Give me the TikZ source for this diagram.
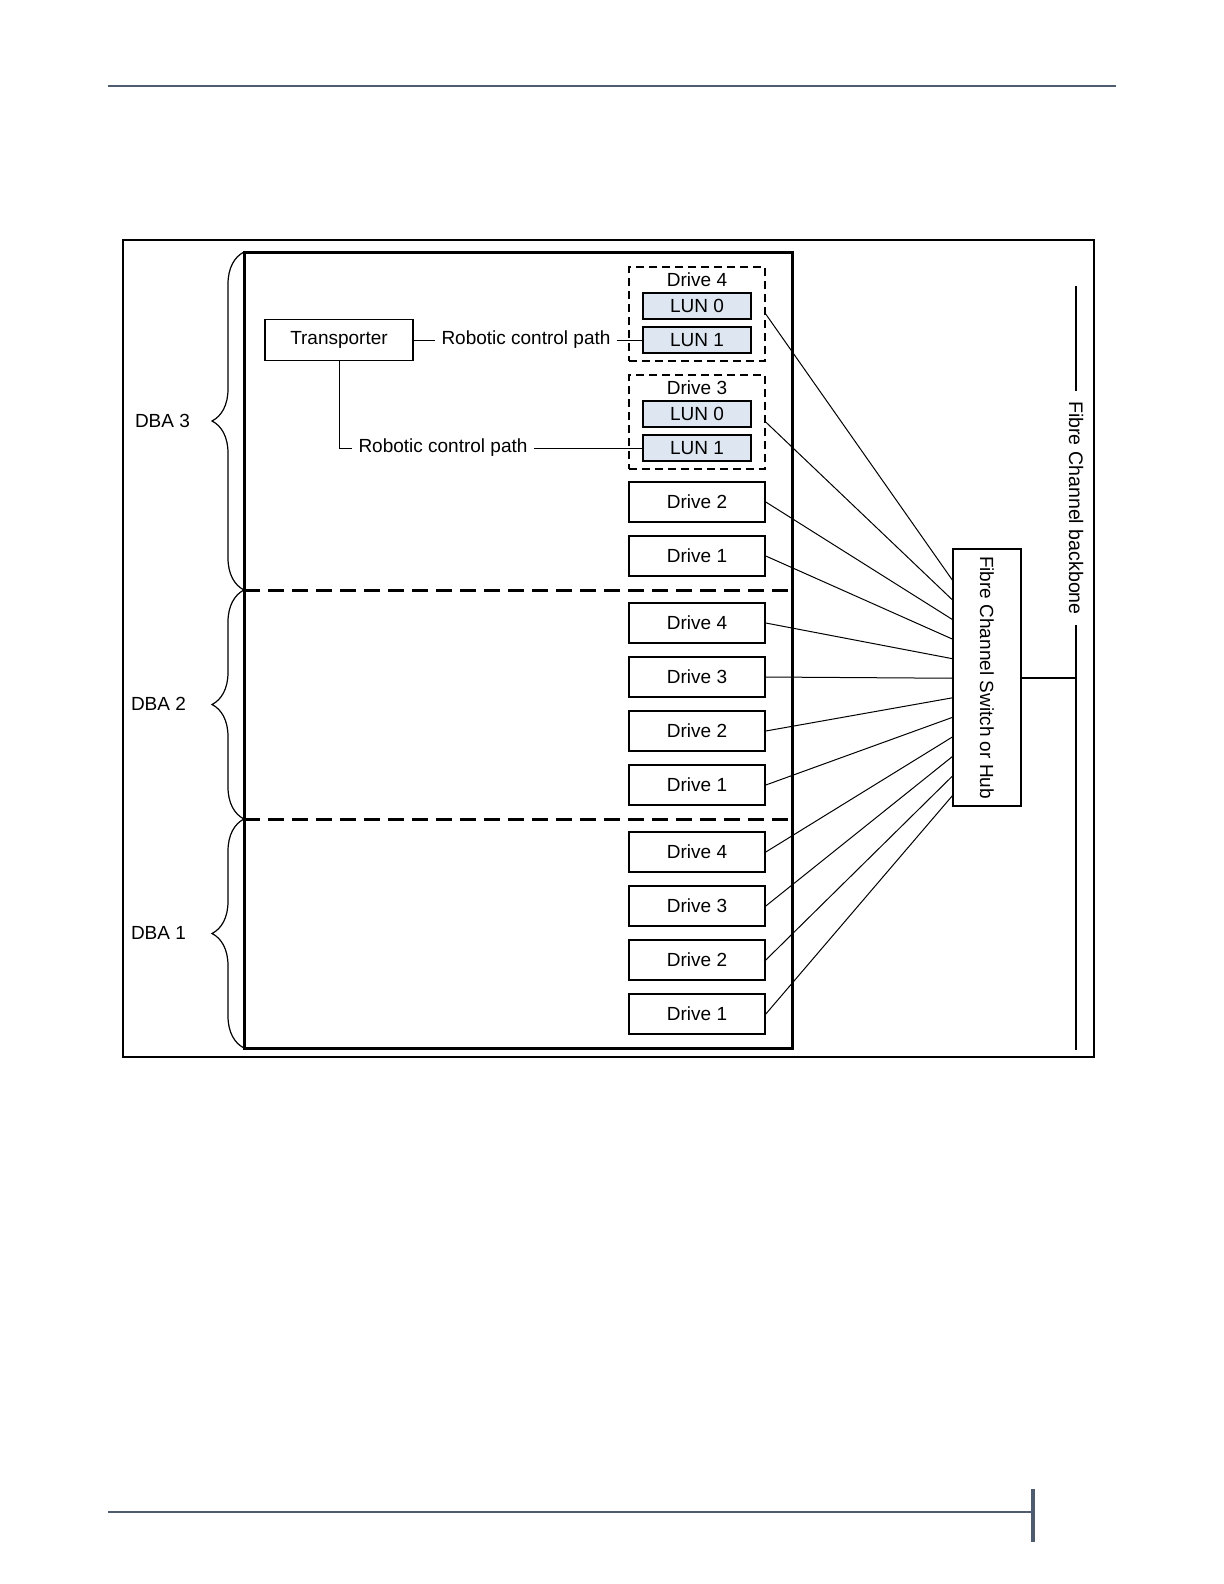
\documentclass[tikz,border=0pt]{standalone}
\usepackage{fontspec}
\setmainfont{Liberation Sans}
\usetikzlibrary{decorations.pathreplacing,positioning}
\definecolor{pagerulecol}{HTML}{4F5B6E}
\definecolor{lunfill}{HTML}{DEE6F1}
\tikzset{
  drive/.style={
    draw,
    line width = 0.8pt,
    minimum width = 68pt,
    minimum height = 20pt,
    inner sep = 0pt
  },
  lun/.style={
    draw,
    line width = 0.8pt,
    fill = lunfill,
    minimum width = 54pt,
    minimum height = 13pt,
    inner sep = 0pt
  },
  drivegroup/.style={
    draw,
    line width = 0.7pt,
    dash pattern = on 4pt off 2.5pt,
    minimum width = 68pt,
    minimum height = 47pt,
    inner sep = 0pt
  },
  plainbox/.style={
    draw,
    line width = 0.8pt,
    inner sep = 0pt
  },
  pathlabel/.style={
    inner sep = 3pt
  },
  link/.style={
    line width = 0.5pt
  },
  sepline/.style={
    line width = 1.5pt,
    dash pattern = on 8pt off 4pt
  },
  dbabrace/.style={
    decorate,
    decoration = {brace, amplitude = 16pt},
    line width = 0.6pt
  },
  pagerule/.style={
    draw = pagerulecol,
    line width = 0.6pt
  }
}

\begin{document}
\begin{tikzpicture}[x=0.5pt, y=-0.5pt, font=\fontsize{9.5}{11}\selectfont]
\useasboundingbox (0,0) rectangle (1224,1584);

    % page rules
    \draw[pagerule] (108,86) -- (1116,86);
    \draw[pagerule] (108,1512) -- (1032,1512);
    \draw[pagerule, line width=2pt] (1033,1489) -- (1033,1542);

    % frame and library
    \draw[line width=0.6pt] (123,240) rectangle (1094,1057);
    \draw[line width=1.5pt] (244,252) rectangle (792,1048);
    \draw[sepline] (244,590) -- (792,590);
    \draw[sepline] (244,819) -- (792,819);

    % DBA braces
    \draw[dbabrace] (244,590) -- (244,252);
    \draw[dbabrace] (244,819) -- (244,590);
    \draw[dbabrace] (244,1048) -- (244,819);
    \node[anchor=east] (dba3) at (197,421) {DBA 3};
    \node[anchor=east] (dba2) at (193,704) {DBA 2};
    \node[anchor=east] (dba1) at (193,933) {DBA 1};

    % DBA 3, drives with LUNs
    \node[drivegroup] (g34) at (697,314) {};
    \node (t34) at (697,280) {Drive 4};
    \node[lun] (l340) at (697,306) {LUN 0};
    \node[lun] (l341) at (697,340) {LUN 1};

    \node[drivegroup] (g33) at (697,422) {};
    \node (t33) at (697,388) {Drive 3};
    \node[lun] (l330) at (697,414) {LUN 0};
    \node[lun] (l331) at (697,448) {LUN 1};

    \node[drive] (d32) at (697,502) {Drive 2};
    \node[drive] (d31) at (697,556) {Drive 1};

    % DBA 2
    \node[drive] (d24) at (697,623) {Drive 4};
    \node[drive] (d23) at (697,677) {Drive 3};
    \node[drive] (d22) at (697,731) {Drive 2};
    \node[drive] (d21) at (697,785) {Drive 1};

    % DBA 1
    \node[drive] (d14) at (697,852) {Drive 4};
    \node[drive] (d13) at (697,906) {Drive 3};
    \node[drive] (d12) at (697,960) {Drive 2};
    \node[drive] (d11) at (697,1014) {Drive 1};

    % transporter
    \node[plainbox, minimum width=74pt, minimum height=20.5pt] (tr) at (339,340) {Transporter};
    \node[pathlabel] (rc1) at (526,340) {Robotic control path};
    \node[pathlabel] (rc2) at (443,448) {Robotic control path};
    \draw[link] (tr) -- (rc1);
    \draw[link] (rc1) -- (l341);
    \draw[link] (tr.south) |- (rc2.west);
    \draw[link] (rc2) -- (l331);

    % switch and backbone
    \node[plainbox, rotate=-90, minimum width=128.5pt, minimum height=34pt] (sw) at (987,677.5) {Fibre Channel Switch or Hub};
    \node[rotate=-90, inner sep=5pt, font=\fontsize{9.8}{12}\selectfont] (bb) at (1076,508) {Fibre Channel backbone};
    \coordinate (bbtop) at (1076,286);
    \coordinate (bbbot) at (1076,1050);
    \draw[line width=1.2pt] (bbtop) -- (bb.west);
    \draw[line width=1.2pt] (bb.east) -- (bbbot);
    \draw[line width=1pt] (sw.north) -- (sw.north -| bbbot);

    \foreach \i in {0,...,11}
        \coordinate (p\i) at (953,{581+19.45*\i});

    \draw[link] (g34.east) -- (p0);
    \draw[link] (g33.east) -- (p1);
    \draw[link] (d32.east) -- (p2);
    \draw[link] (d31.east) -- (p3);
    \draw[link] (d24.east) -- (p4);
    \draw[link] (d23.east) -- (p5);
    \draw[link] (d22.east) -- (p6);
    \draw[link] (d21.east) -- (p7);
    \draw[link] (d14.east) -- (p8);
    \draw[link] (d13.east) -- (p9);
    \draw[link] (d12.east) -- (p10);
    \draw[link] (d11.east) -- (p11);
\end{tikzpicture}
\end{document}
